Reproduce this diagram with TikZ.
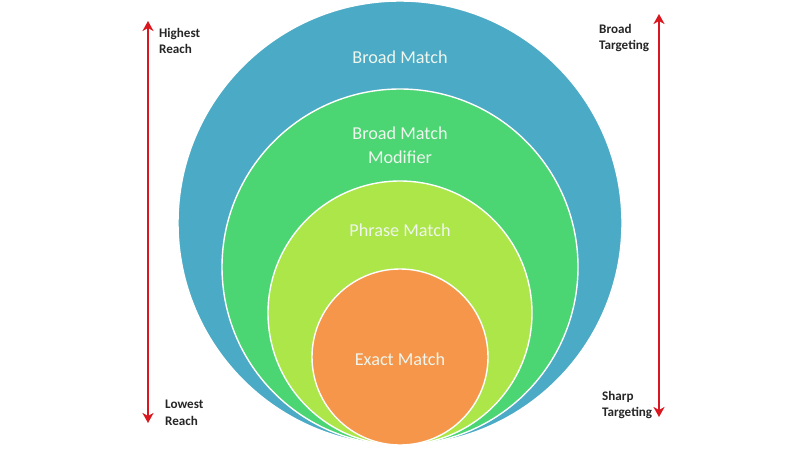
\documentclass[tikz,border=0pt]{standalone}
\usepackage{fontspec}
\setmainfont{Carlito}
\usetikzlibrary{arrows.meta}
\definecolor{cblue}{RGB}{75,170,197}
\definecolor{cgreen}{RGB}{75,213,115}
\definecolor{clime}{RGB}{172,230,72}
\definecolor{corange}{RGB}{245,150,75}
\definecolor{ctext}{RGB}{238,246,238}
\definecolor{cred}{RGB}{218,22,30}
\tikzset{
  ring/.style={circle, draw=white, line width=1.4pt, inner sep=0pt},
  ringlabel/.style={text=ctext, font=\fontsize{18.2}{24}\selectfont, align=center, inner sep=0pt},
  sidelabel/.style={font=\bfseries\fontsize{13.1}{16.5}\selectfont, align=left, anchor=west, inner sep=0pt, text=black!85},
  redarrow/.style={draw=cred, line width=2.3pt, {Stealth[length=10pt,width=11pt,inset=3pt]}-{Stealth[length=10pt,width=11pt,inset=3pt]}}
}
\begin{document}
\begin{tikzpicture}[x=1pt,y=-1pt]
\useasboundingbox[fill=white] (0,0) rectangle (800,450);
\node[ring, fill=cblue, minimum size=444pt] (blue) at (400,223) {};
\node[ring, fill=cgreen, minimum size=356pt] (green) at (400,267) {};
\node[ring, fill=clime, minimum size=264pt] (lime) at (400,313) {};
\node[ring, fill=corange, minimum size=176pt] (orange) at (400,357) {};
\node[ringlabel] (tb) at (400,57) {Broad Match};
\node[ringlabel] (tbm) at (400,145) {Broad Match\\Modifier};
\node[ringlabel] (tp) at (400,230) {Phrase Match};
\node[ringlabel] (te) at (400,359) {Exact Match};
\coordinate (la) at (148,21);
\coordinate (lb) at (148,423);
\draw[redarrow] (lb) -- (la);
\coordinate (ra) at (659,14);
\coordinate (rb) at (659,417);
\draw[redarrow] (rb) -- (ra);
\node[sidelabel] (hr) at (159,41) {Highest\\Reach};
\node[sidelabel] (lr) at (165,413) {Lowest\\Reach};
\node[sidelabel] (bt) at (599,38) {Broad\\Targeting};
\node[sidelabel] (st) at (602,405) {Sharp\\Targeting};
\end{tikzpicture}
\end{document}
